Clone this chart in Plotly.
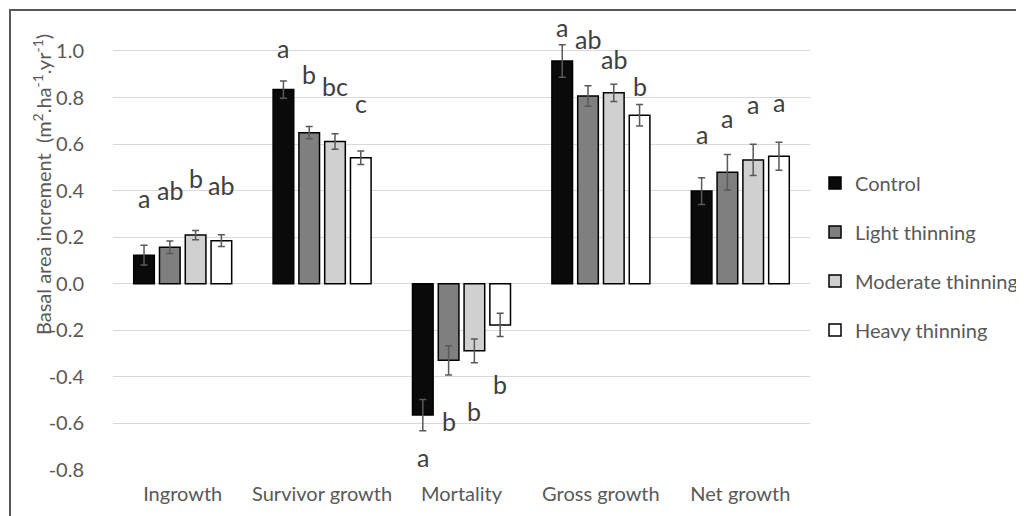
import plotly.graph_objects as go

categories = ["Ingrowth", "Survivor growth", "Mortality", "Gross growth", "Net growth"]
series_names = ["Control", "Light thinning", "Moderate thinning", "Heavy thinning"]

control = [0.123, 0.834, -0.564, 0.957, 0.398]
light = [0.157, 0.649, -0.329, 0.807, 0.479]
moderate = [0.209, 0.611, -0.288, 0.820, 0.532]
heavy = [0.185, 0.541, -0.177, 0.724, 0.548]

control_err = [0.042, 0.037, 0.067, 0.070, 0.057]
light_err = [0.027, 0.026, 0.063, 0.044, 0.076]
moderate_err = [0.020, 0.033, 0.051, 0.037, 0.067]
heavy_err = [0.025, 0.029, 0.050, 0.046, 0.060]

# significance letters (per series, per category) and their label heights
control_letters = ["a", "a", "a", "a", "a"]
light_letters = ["ab", "b", "b", "ab", "a"]
moderate_letters = ["b", "bc", "b", "ab", "a"]
heavy_letters = ["ab", "c", "b", "b", "a"]

control_letter_y = [0.369, 1.013, -0.742, 1.103, 0.644]
light_letter_y = [0.403, 0.901, -0.588, 1.052, 0.712]
moderate_letter_y = [0.455, 0.850, -0.545, 0.966, 0.773]
heavy_letter_y = [0.425, 0.777, -0.429, 0.850, 0.781]

y_ticks = [-0.8, -0.6, -0.4, -0.2, 0.0, 0.2, 0.4, 0.6, 0.8, 1.0]
y_tick_text = ["-0.8", "-0.6", "-0.4", "-0.2", "0.0", "0.2", "0.4", "0.6", "0.8", "1.0"]

colors = ["#0a0a0a", "#7f7f7f", "#d0d0d0", "#ffffff"]
FONT = "Lato, 'Open Sans', sans-serif"
TXT = "#595959"

values = [control, light, moderate, heavy]
errors = [control_err, light_err, moderate_err, heavy_err]
letters = [control_letters, light_letters, moderate_letters, heavy_letters]
letter_ys = [control_letter_y, light_letter_y, moderate_letter_y, heavy_letter_y]

# the page body has an 8px margin: figure origin sits at (8, 8) in the window
OFF = 8
PL, PR, PT, PB = 113, 810, 20, 470  # plot area in window pixels
PW, PH = PR - PL, PB - PT


def px(xw):
    return (xw - PL) / PW


def py(yw):
    return (PB - yw) / PH


fig = go.Figure()
for i, name in enumerate(series_names):
    fig.add_trace(go.Bar(
        name=name,
        x=categories,
        y=values[i],
        legendgroup=name,
        marker=dict(color=colors[i], line=dict(color="#000000", width=1.5)),
        error_y=dict(type="data", array=errors[i], visible=True,
                     color="#595959", thickness=1.5, width=3.5),
    ))

pitch = 0.185
offsets = [-1.5 * pitch, -0.5 * pitch, 0.5 * pitch, 1.5 * pitch]
annotations = []
for i in range(4):
    for j in range(len(categories)):
        annotations.append(dict(
            x=j + offsets[i], y=letter_ys[i][j], xref="x", yref="y",
            text=letters[i][j], showarrow=False,
            font=dict(family=FONT, size=25, color="#404040"),
        ))

annotations.append(dict(
    x=px(42), y=py(185), xref="paper", yref="paper",
    xanchor="center", yanchor="middle",
    text="Basal area increment  (m<sup>2</sup>.ha<sup>-1</sup>.yr<sup>-1</sup>)",
    textangle=-90, showarrow=False,
    font=dict(family=FONT, size=20, color=TXT),
))

W, H = 1024 - OFF, 516 - OFF
fig.update_layout(
    width=W, height=H,
    margin=dict(l=PL - OFF, r=W - (PR - OFF), t=PT - OFF, b=H - (PB - OFF), autoexpand=False),
    paper_bgcolor="white", plot_bgcolor="white",
    barmode="group", bargap=0.26, bargroupgap=0.2,
    font=dict(family=FONT, size=20, color=TXT),
    showlegend=True,
    legend=dict(x=px(815), y=py(256.5), xanchor="left", yanchor="middle",
                font=dict(family=FONT, size=20, color=TXT),
                tracegroupgap=20, itemwidth=30, bgcolor="rgba(0,0,0,0)"),
    annotations=annotations,
    shapes=[dict(type="rect", xref="paper", yref="paper",
                 x0=px(10), x1=px(1060),
                 y0=py(560), y1=py(10),
                 line=dict(color="#595959", width=2), fillcolor="rgba(0,0,0,0)",
                 layer="below")],
)
fig.update_xaxes(showgrid=False, showline=False, ticks="", ticklabelstandoff=10,
                 tickfont=dict(family=FONT, size=20, color=TXT))
fig.update_yaxes(range=[-0.8, 1.133], tickvals=y_ticks, ticktext=y_tick_text,
                 showgrid=True, gridcolor="#d9d9d9", gridwidth=1.3,
                 zeroline=True, zerolinecolor="#d9d9d9", zerolinewidth=1.3,
                 showline=False, ticks="", ticklabelstandoff=28,
                 tickfont=dict(family=FONT, size=20, color=TXT))

fig.write_html("out.html")
